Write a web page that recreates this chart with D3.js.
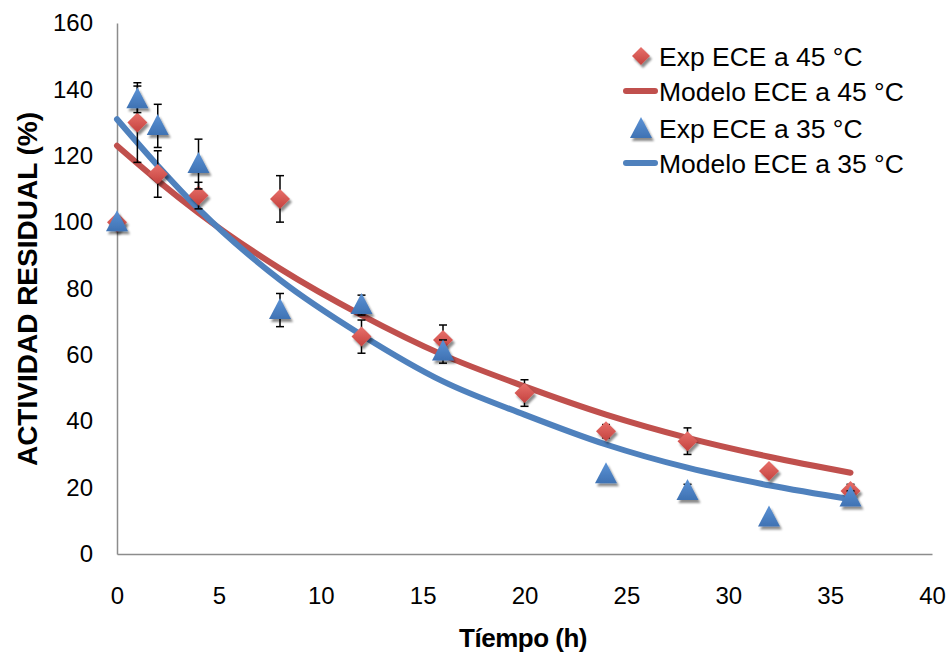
<!DOCTYPE html>
<html><head><meta charset="utf-8">
<script src="https://cdn.jsdelivr.net/npm/d3@7"></script>
<style>
body{margin:0;background:#fff;}
text{font-family:"Liberation Sans",Arial,sans-serif;fill:#000;}
</style></head>
<body><svg id="c" width="950" height="658"></svg>
<script>
// ---- data ----
const tiempo45 = [0,1,2,4,8,12,16,20,24,28,32,36];
const exp45    = [100,130,114.5,108,107,65.5,64.5,48.5,37,34,25,19];
const err45    = [0,12,7,4,7,5,4.5,4,2,4,1,2];
const tiempo35 = [0,1,2,4,8,12,16,24,28,32,36];
const exp35    = [100,137,129,117.5,73.5,75,61,24,19,11,17];
const err35    = [0,4,6.5,7.5,5,3,3.5,0,2,0,2];
const tModelo   = [0,2,4,8,12,16,20,24,28,32,36];
const modelo45  = [123,112.5,102.8,86,72,60,50.5,42,35,29.3,24.5];
const modelo35  = [131,117,104,82.6,66,52,42,33,26,20.7,16.5];
const xTicks = [0,5,10,15,20,25,30,35,40];
const yTicks = [0,20,40,60,80,100,120,140,160];
const legendLabels = ["Exp ECE a 45 °C","Modelo ECE a 45 °C","Exp ECE a 35 °C","Modelo ECE a 35 °C"];

const RED="#C0504D", BLUE="#4F81BD";
const svg = d3.select("#c");
const x = d3.scaleLinear().domain([0,40]).range([117,932]);
const y = d3.scaleLinear().domain([0,160]).range([554,23]);

const defs = svg.append("defs");
const f = defs.append("filter").attr("id","sh").attr("x","-50%").attr("y","-50%").attr("width","200%").attr("height","200%");
f.append("feDropShadow").attr("dx",2).attr("dy",3).attr("stdDeviation",1.3).attr("flood-color","#000").attr("flood-opacity",0.45);
const gr = defs.append("linearGradient").attr("id","gr").attr("x1",0).attr("y1",0).attr("x2",0).attr("y2",1);
gr.append("stop").attr("offset","0%").attr("stop-color","#E8706B");
gr.append("stop").attr("offset","100%").attr("stop-color","#C4423E");
const gb = defs.append("linearGradient").attr("id","gb").attr("x1",0).attr("y1",0).attr("x2",0).attr("y2",1);
gb.append("stop").attr("offset","0%").attr("stop-color","#5C93D6");
gb.append("stop").attr("offset","100%").attr("stop-color","#3F72B3");

// axes (no tick marks)
const xAxis = d3.axisBottom(x).tickValues(xTicks).tickSize(0).tickPadding(33);
const yAxis = d3.axisLeft(y).tickValues(yTicks).tickSize(0).tickPadding(24);
const gx = svg.append("g").attr("transform","translate(0,554)").call(xAxis);
const gy = svg.append("g").attr("transform","translate(117,0)").call(yAxis);
[gx,gy].forEach(g=>{
  g.attr("font-size",null);
  g.select(".domain").attr("stroke","#8c8c8c").attr("stroke-width",1.5);
  g.selectAll("text").style("font-size","24px").style("font-family","'Liberation Sans',Arial,sans-serif").attr("fill","#000");
});

// model lines
const line = d3.line().x(d=>x(d[0])).y(d=>y(d[1])).curve(d3.curveMonotoneX);
svg.append("path").datum(tModelo.map((t,i)=>[t,modelo45[i]])).attr("d",line)
  .attr("fill","none").attr("stroke",RED).attr("stroke-width",6).attr("stroke-linecap","round");
svg.append("path").datum(tModelo.map((t,i)=>[t,modelo35[i]])).attr("d",line)
  .attr("fill","none").attr("stroke",BLUE).attr("stroke-width",6).attr("stroke-linecap","round");

function errBars(ts,vals,errs){
  const g = svg.append("g").attr("stroke","#000").attr("stroke-width",1.5);
  ts.forEach((t,i)=>{
    if(!errs[i]) return;
    const cx=x(t), y1=y(vals[i]+errs[i]), y2=y(vals[i]-errs[i]);
    g.append("line").attr("x1",cx).attr("x2",cx).attr("y1",y1).attr("y2",y2);
    g.append("line").attr("x1",cx-4).attr("x2",cx+4).attr("y1",y1).attr("y2",y1);
    g.append("line").attr("x1",cx-4).attr("x2",cx+4).attr("y1",y2).attr("y2",y2);
  });
}
const diamond = (cx,cy,r)=>`M${cx},${cy-r}L${cx+r},${cy}L${cx},${cy+r}L${cx-r},${cy}Z`;
const tri = (cx,cy)=>`M${cx},${cy-12}L${cx+11},${cy+9}L${cx-11},${cy+9}Z`;

errBars(tiempo45,exp45,err45);
svg.append("g").selectAll("path").data(tiempo45.map((t,i)=>[t,exp45[i]])).join("path")
  .attr("d",d=>diamond(x(d[0]),y(d[1]),10)).attr("fill","url(#gr)").attr("filter","url(#sh)");
errBars(tiempo35,exp35,err35);
svg.append("g").selectAll("path").data(tiempo35.map((t,i)=>[t,exp35[i]])).join("path")
  .attr("d",d=>tri(x(d[0]),y(d[1]))).attr("fill","url(#gb)").attr("filter","url(#sh)");

// axis titles
svg.append("text").attr("x",523).attr("y",647).attr("text-anchor","middle")
  .style("font-size","26px").style("font-weight","bold").style("letter-spacing","-0.5px").text("Tíempo (h)");
svg.append("text").attr("transform","translate(37,289) rotate(-90)").attr("text-anchor","middle")
  .style("font-size","28px").style("font-weight","bold").text("ACTIVIDAD RESIDUAL  (%)");

// legend
const lg = svg.append("g");
const rows=[56,91,128,163];
lg.append("path").attr("d",diamond(641,rows[0],9)).attr("fill","url(#gr)").attr("filter","url(#sh)");
lg.append("line").attr("x1",626).attr("x2",655).attr("y1",rows[1]).attr("y2",rows[1]).attr("stroke",RED).attr("stroke-width",6).attr("stroke-linecap","round");
lg.append("path").attr("d",tri(641,rows[2]+1)).attr("fill","url(#gb)").attr("filter","url(#sh)");
lg.append("line").attr("x1",626).attr("x2",655).attr("y1",rows[3]).attr("y2",rows[3]).attr("stroke",BLUE).attr("stroke-width",6).attr("stroke-linecap","round");
legendLabels.forEach((s,i)=>{
  lg.append("text").attr("x",659).attr("y",rows[i]).attr("dy","0.36em").style("font-size","26.5px").text(s);
});
</script></body></html>
